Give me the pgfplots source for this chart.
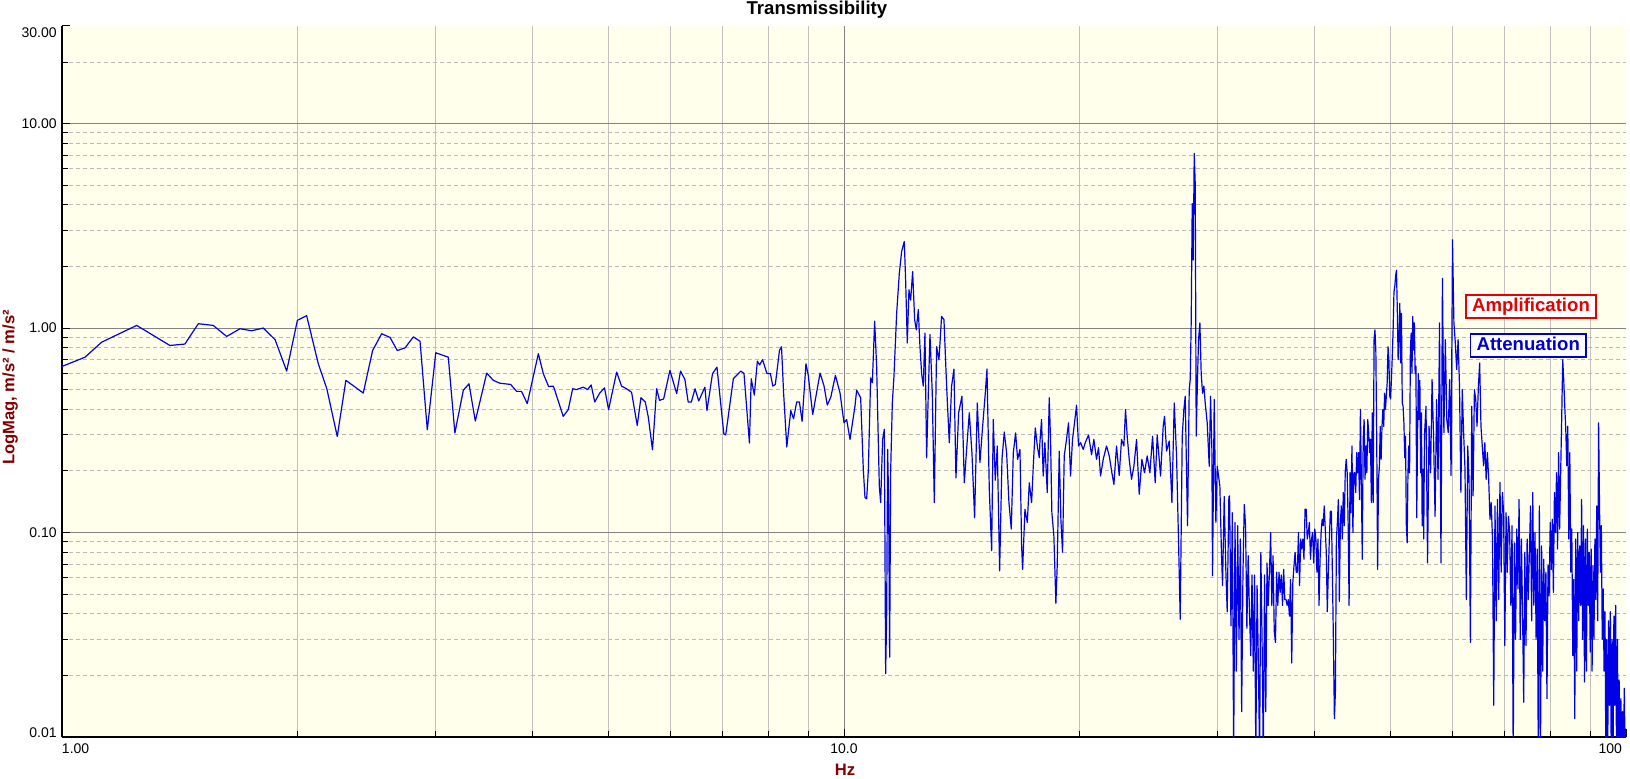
\documentclass[border=0pt]{standalone}
\usepackage{fontspec}
\setmainfont{Liberation Sans}
\usepackage{pgfplots}
\pgfplotsset{compat=1.18}

\definecolor{bgyellow}{RGB}{255,255,236}
\definecolor{gridmajor}{RGB}{130,130,130}
\definecolor{gridminor}{RGB}{192,192,192}
\definecolor{griddash}{RGB}{185,185,185}
\definecolor{labelred}{RGB}{128,0,0}
\definecolor{trace}{RGB}{0,0,230}
\definecolor{ampred}{RGB}{230,0,0}
\definecolor{attblue}{RGB}{0,0,205}

\newcommand\tickfont{\fontsize{7}{8}\selectfont}

\begin{document}
\begin{tikzpicture}
\begin{loglogaxis}[
  at={(0,0)}, anchor=south west,
  scale only axis, width=782pt, height=355.5pt,
  xmin=1, xmax=100, ymin=0.01, ymax=30,
  axis lines*=left,
  axis line style={-, line width=1.2pt, black},
  every inner x axis line/.append style={-},
  every inner y axis line/.append style={-},
  axis background/.style={fill=bgyellow},
  xtick={10}, xticklabels={10.0},
  extra x ticks={1,100},
  extra x tick labels={{\makebox[0pt][l]{1.00}},{\makebox[0pt][r]{100\hspace{2pt}}}},
  extra x tick style={grid=none},
  minor xtick={2,3,4,5,6,7,8,9,20,30,40,50,60,70,80,90},
  ytick={0.01,0.1,1,10},
  yticklabels={{\raisebox{2.25pt}[\height][0pt]{0.01}},0.10,1.00,10.00},
  extra y ticks={30},
  extra y tick labels={{\raisebox{-3.25pt}[\height][0pt]{30.00}}},
  extra y tick style={grid=none},
  minor ytick={0.02,0.03,0.04,0.05,0.06,0.07,0.08,0.09,0.2,0.3,0.4,0.5,0.6,0.7,0.8,0.9,2,3,4,5,6,7,8,9,20},
  grid=both,
  major x grid style={gridmajor, line width=0.5pt},
  minor x grid style={gridminor, line width=0.5pt},
  major y grid style={gridmajor, line width=0.5pt},
  minor y grid style={griddash, line width=0.5pt, dash pattern=on 2pt off 1.5pt},
  tick align=inside,
  major tick length=4pt, minor tick length=3pt,
  every tick/.style={black, line width=0.5pt},
  xticklabel style={font=\tickfont, anchor=north, inner sep=0pt, yshift=-3pt},
  yticklabel style={font=\tickfont, anchor=east, inner sep=0pt, xshift=-2.5pt},
  title={Transmissibility},
  every axis title/.style={at={(axis description cs:0.4827,1)}, anchor=base,
    yshift=5.5pt, inner sep=0pt, font=\bfseries\fontsize{9.3}{11}\selectfont},
  xlabel={Hz},
  every axis x label/.style={at={(axis description cs:0.5006,0)}, anchor=center,
    yshift=-16.3pt, inner sep=0pt, text=labelred, font=\bfseries\fontsize{8.3}{10}\selectfont},
  ylabel={LogMag, m/s² / m/s²},
  every axis y label/.style={at={(axis description cs:0,0.4916)}, xshift=-26pt, rotate=90,
    anchor=center, inner sep=0pt, text=labelred, font=\bfseries\fontsize{8.3}{10}\selectfont},
]
\addplot[trace, line width=0.6pt, line join=round, no marks] coordinates {
(1.0,0.649) (1.070,0.72) (1.124,0.853) (1.246,1.03) (1.374,0.822) (1.436,0.835) (1.494,1.05) (1.561,1.03)
(1.624,0.91) (1.689,0.992) (1.748,0.97) (1.809,1.0) (1.873,0.877) (1.938,0.616) (2.0,1.09) (2.055,1.15)
(2.127,0.669) (2.181,0.505) (2.249,0.295) (2.307,0.555) (2.428,0.481) (2.496,0.777) (2.563,0.938) (2.627,0.9)
(2.684,0.777) (2.746,0.80) (2.814,0.905) (2.870,0.862) (2.932,0.318) (3.006,0.757) (3.119,0.72) (3.18,0.307)
(3.26,0.496) (3.315,0.534) (3.377,0.351) (3.493,0.602) (3.561,0.555) (3.632,0.537) (3.748,0.53) (3.815,0.49)
(3.87,0.49) (3.936,0.427) (4.066,0.749) (4.126,0.598) (4.19,0.518) (4.25,0.52) (4.375,0.37) (4.44,0.399)
(4.498,0.505) (4.55,0.50) (4.64,0.514) (4.70,0.50) (4.75,0.527) (4.80,0.435) (4.87,0.48) (4.94,0.51)
(5.0,0.399) (5.12,0.609) (5.195,0.52) (5.27,0.505) (5.35,0.485) (5.44,0.334) (5.50,0.457) (5.57,0.435)
(5.62,0.367) (5.69,0.254) (5.76,0.505) (5.81,0.443) (5.88,0.45) (5.99,0.621) (6.11,0.478) (6.18,0.616)
(6.26,0.56) (6.32,0.435) (6.38,0.435) (6.45,0.505) (6.52,0.44) (6.64,0.514) (6.68,0.395) (6.79,0.598)
(6.88,0.644) (7.02,0.304) (7.06,0.30) (7.22,0.565) (7.38,0.616) (7.45,0.60) (7.57,0.274) (7.61,0.565)
(7.68,0.47) (7.75,0.689) (7.8,0.66) (7.87,0.70) (7.97,0.60) (8.05,0.60) (8.11,0.52) (8.17,0.53)
(8.27,0.777) (8.32,0.81) (8.37,0.485) (8.45,0.262) (8.55,0.395) (8.62,0.36) (8.70,0.435) (8.77,0.435)
(8.84,0.35) (8.94,0.669) (9.0,0.59) (9.12,0.378) (9.32,0.602) (9.43,0.52) (9.52,0.42) (9.62,0.46)
(9.75,0.587)
(9.883,0.482) (10.00,0.344) (10.079,0.357) (10.178,0.285) (10.329,0.415) (10.380,0.497) (10.503,0.456) (10.585,0.204)
(10.638,0.148) (10.690,0.146) (10.742,0.20) (10.816,0.57) (10.870,0.54) (10.945,1.08) (11.009,0.65) (11.096,0.169)
(11.140,0.14) (11.205,0.285) (11.261,0.32) (11.305,0.0204) (11.338,0.039) (11.372,0.255) (11.405,0.14) (11.439,0.0246)
(11.472,0.196) (11.529,0.43) (11.585,0.58) (11.677,1.18) (11.769,1.85) (11.850,2.37) (11.943,2.65) (11.990,1.72)
(12.049,0.845) (12.108,1.54) (12.168,1.37) (12.240,1.89) (12.312,1.1) (12.372,0.98) (12.445,1.23) (12.507,0.81)
(12.568,0.6) (12.630,0.52) (12.692,0.945) (12.754,0.232) (12.805,0.415) (12.880,0.93) (12.969,0.48) (13.046,0.14)
(13.135,0.81) (13.226,0.70) (13.330,1.14) (13.422,1.1) (13.528,0.52) (13.635,0.275) (13.729,0.52) (13.823,0.63)
(13.905,0.185) (14.015,0.385) (14.153,0.464) (14.251,0.175) (14.349,0.255) (14.462,0.385) (14.576,0.245) (14.691,0.118)
(14.807,0.43) (14.924,0.22) (15.041,0.33) (15.160,0.48) (15.235,0.63) (15.340,0.163) (15.446,0.0815) (15.521,0.357)
(15.613,0.18) (15.705,0.265) (15.814,0.065) (15.923,0.228) (16.032,0.31) (16.143,0.245) (16.254,0.14) (16.366,0.104)
(16.463,0.245) (16.576,0.307) (16.674,0.228) (16.789,0.255) (16.872,0.086) (16.922,0.066) (17.038,0.13) (17.156,0.112)
(17.257,0.175) (17.376,0.14) (17.462,0.212) (17.565,0.325) (17.669,0.265) (17.773,0.232)
(17.805,0.275) (17.892,0.357) (17.980,0.189) (18.069,0.275) (18.194,0.157) (18.301,0.456) (18.373,0.285) (18.445,0.125)
(18.554,0.096) (18.663,0.045) (18.737,0.069) (18.847,0.25) (18.940,0.116) (19.033,0.08) (19.127,0.237) (19.258,0.285)
(19.372,0.344) (19.487,0.189) (19.602,0.285) (19.717,0.344) (19.834,0.42) (19.951,0.265) (20.068,0.275) (20.227,0.255)
(20.346,0.275) (20.547,0.30) (20.728,0.24) (20.871,0.285) (21.036,0.228) (21.160,0.26) (21.285,0.189) (21.453,0.228)
(21.665,0.265) (21.836,0.237) (22.008,0.196) (22.138,0.172) (22.311,0.265) (22.487,0.19) (22.642,0.285) (22.798,0.265)
(22.910,0.40) (23.023,0.296) (23.159,0.228) (23.319,0.182) (23.480,0.211) (23.665,0.285) (23.852,0.154) (24.040,0.228)
(24.229,0.196) (24.420,0.237) (24.613,0.196) (24.807,0.296) (25.002,0.175) (25.150,0.30) (25.398,0.189) (25.599,0.332)
(25.700,0.37) (25.851,0.25) (26.055,0.28) (26.261,0.14) (26.442,0.43) (26.624,0.237) (26.781,0.09) (26.913,0.0377)
(27.072,0.296) (27.205,0.40) (27.312,0.464) (27.420,0.196) (27.500,0.108) (27.636,0.50) (27.717,0.56) (27.799,1.08)
(27.881,4.07) (27.963,2.15) (28.046,7.14) (28.128,5.1) (28.211,0.296) (28.322,0.58) (28.406,0.877) (28.517,1.06)
(28.629,0.6) (28.742,0.48) (28.855,0.52) (28.969,0.43) (29.140,0.344) (29.312,0.211) (29.428,0.464) (29.543,0.255)
(29.601,0.0614) (29.747,0.447) (29.893,0.112) (30.011,0.211) (30.129,0.189) (30.247,0.169) (30.396,0.077) (30.486,0.055)
(30.636,0.15) (30.787,0.064) (30.908,0.041) (31.060,0.15)
(31.125,0.151) (31.25,0.035) (31.375,0.125) (31.5,0.008) (31.625,0.112) (31.75,0.021) (31.875,0.108)
(32.0,0.030) (32.125,0.093) (32.25,0.0133) (32.375,0.064) (32.5,0.137) (32.625,0.108) (32.75,0.034) (32.875,0.077)
(33.0,0.041) (33.125,0.025) (33.25,0.062) (33.375,0.021) (33.5,0.062) (33.625,0.008) (33.75,0.055) (33.875,0.024)
(34.0,0.008) (34.125,0.08) (34.25,0.030) (34.375,0.008) (34.5,0.062) (34.625,0.0133) (34.75,0.071) (34.875,0.044)
(35.0,0.064) (35.125,0.10) (35.25,0.044) (35.375,0.077) (35.5,0.033) (35.625,0.029) (35.75,0.064) (35.875,0.044)
(36.0,0.064) (36.125,0.051) (36.25,0.062) (36.375,0.044) (36.5,0.066) (36.625,0.047) (36.75,0.047) (36.875,0.044)
(37.0,0.047) (37.125,0.039) (37.25,0.059) (37.375,0.023) (37.5,0.057) (37.625,0.069) (37.75,0.08) (37.875,0.064)
(38.0,0.064) (38.125,0.10) (38.25,0.055) (38.375,0.093) (38.5,0.083) (38.625,0.093) (38.75,0.074) (38.875,0.13)
(39.0,0.13) (39.125,0.093) (39.25,0.10) (39.375,0.112) (39.5,0.074) (39.625,0.093) (39.75,0.10) (39.875,0.071)
(40.0,0.104) (40.125,0.093) (40.25,0.064) (40.375,0.093) (40.5,0.044) (40.625,0.074) (40.75,0.10) (40.875,0.116)
(41.0,0.108) (41.125,0.135) (41.25,0.104) (41.375,0.08) (41.5,0.041) (41.625,0.064) (41.75,0.093) (41.875,0.127)
(42.0,0.127) (42.125,0.064) (42.25,0.030) (42.375,0.0123) (42.5,0.0165) (42.625,0.093) (42.75,0.112) (42.875,0.145)
(43.0,0.046) (43.125,0.112) (43.25,0.135) (43.375,0.093) (43.5,0.157) (43.625,0.108) (43.75,0.196) (43.875,0.228)
(44.0,0.196) (44.125,0.112) (44.25,0.044) (44.375,0.196) (44.5,0.125) (44.625,0.265) (44.75,0.10) (44.875,0.196)
(45.0,0.196) (45.125,0.157) (45.25,0.246) (45.375,0.196) (45.5,0.246) (45.625,0.145) (45.75,0.40) (45.875,0.182)
(46.0,0.074) (46.125,0.286) (46.25,0.357) (46.375,0.182) (46.5,0.265) (46.625,0.196) (46.75,0.357) (46.875,0.31)
(47.0,0.246) (47.125,0.286) (47.25,0.14) (47.375,0.385) (47.5,0.14) (47.625,0.877) (47.75,0.98) (47.875,0.78)
(48.0,0.286) (48.125,0.066) (48.25,0.182) (48.375,0.21) (48.5,0.33) (48.625,0.228) (48.75,0.33) (48.875,0.40)
(49.0,0.33) (49.125,0.48) (49.25,0.40) (49.375,0.465) (49.5,0.54) (49.625,0.81) (49.75,0.70) (49.875,0.465)
(50.0,0.45) (50.125,0.56) (50.25,0.73) (50.375,0.98) (50.5,1.5) (50.625,1.6) (50.75,1.8) (50.875,1.92)
(51.0,1.22) (51.125,0.70) (51.25,0.88) (51.375,1.32) (51.5,0.675) (51.625,1.18) (51.75,0.43) (51.875,0.415)
(52.0,0.344) (52.125,0.232) (52.25,0.296) (52.375,0.108) (52.5,0.089) (52.625,0.196) (52.75,0.265) (52.875,0.196)
(53.0,0.78) (53.125,0.945) (53.25,0.60) (53.375,1.14) (53.5,0.78) (53.625,1.06) (53.75,0.60) (53.875,0.65)
(54.0,0.118) (54.125,0.286) (54.25,0.60) (54.375,0.357) (54.5,0.555) (54.625,0.196) (54.75,0.385) (54.875,0.108)
(55.0,0.204) (55.125,0.093) (55.25,0.30)
(55.5,0.415) (55.75,0.071) (56.0,0.331) (56.25,0.196) (56.5,0.56) (56.75,0.286) (57.0,0.12) (57.25,0.447)
(57.5,0.182) (57.75,1.06) (58.0,0.071) (58.25,1.75) (58.5,0.308) (58.75,0.877) (59.0,0.357) (59.25,0.308)
(59.5,0.56) (59.75,0.19) (60.0,2.7) (60.25,1.06) (60.5,0.845) (60.75,0.627) (61.0,0.877) (61.25,0.52)
(61.5,0.157) (61.75,0.50) (62.0,0.308) (62.25,0.204) (62.5,0.047) (62.75,0.265) (63.0,0.182) (63.25,0.029)
(63.5,0.415) (63.75,0.151) (64.0,0.50) (64.25,0.447) (64.5,0.331) (64.75,0.52) (65.0,0.675) (65.25,0.331)
(65.5,0.265) (65.75,0.212) (66.0,0.275) (66.25,0.182) (66.5,0.246) (66.75,0.182) (67.0,0.116) (67.25,0.14)
(67.5,0.093) (67.75,0.0143) (68.0,0.135) (68.25,0.037) (68.5,0.145) (68.75,0.047) (69.0,0.176) (69.25,0.064)
(69.5,0.157) (69.75,0.125) (70.0,0.028) (70.25,0.125) (70.5,0.064) (70.75,0.12) (71.0,0.10) (71.25,0.044)
(71.5,0.108) (71.75,0.008) (72.0,0.089) (72.25,0.030) (72.5,0.104) (72.75,0.053) (73.0,0.145) (73.25,0.030)
(73.5,0.093) (73.75,0.041) (74.0,0.0148) (74.25,0.08) (74.5,0.028) (74.75,0.093) (75.0,0.047) (75.25,0.08)
(75.5,0.135) (75.75,0.037) (76.0,0.157) (76.25,0.044) (76.5,0.10) (76.75,0.030) (77.0,0.083) (77.25,0.008)
(77.5,0.135) (77.75,0.008) (78.0,0.086) (78.25,0.021) (78.5,0.074) (78.75,0.037) (79.0,0.064) (79.25,0.0154)
(79.5,0.069) (79.75,0.049) (80.0,0.112) (80.25,0.066) (80.5,0.116) (80.75,0.051) (81.0,0.157) (81.25,0.10)
(81.5,0.196) (81.75,0.083) (82.0,0.246) (82.25,0.104) (82.5,0.196) (82.75,0.357) (83.0,0.70) (83.25,0.56)
(83.5,0.415) (83.75,0.32) (84.0,0.212) (84.25,0.331) (84.5,0.093) (84.75,0.246) (85.0,0.064) (85.25,0.104)
(85.5,0.025) (85.75,0.059) (86.0,0.0123) (86.25,0.093) (86.5,0.021) (86.75,0.10) (87.0,0.037) (87.25,0.086)
(87.5,0.044) (87.75,0.145) (88.0,0.030) (88.25,0.108) (88.5,0.0186) (88.75,0.093) (89.0,0.021) (89.25,0.104)
(89.5,0.044) (89.75,0.08) (90.0,0.026) (90.25,0.083) (90.5,0.021) (90.75,0.069) (91.0,0.030) (91.25,0.093)
(91.5,0.047) (91.75,0.135) (92.0,0.037) (92.25,0.344) (92.5,0.135) (92.75,0.064) (93.0,0.108) (93.25,0.030)
(93.5,0.053) (93.75,0.021) (94.0,0.041) (94.25,0.008) (94.5,0.030) (94.75,0.008) (95.0,0.037) (95.25,0.0143)
(95.5,0.041) (95.75,0.008) (96.0,0.030) (96.25,0.008) (96.5,0.039) (96.75,0.0143) (97.0,0.044) (97.25,0.008)
(97.5,0.030) (97.75,0.008) (98.0,0.019) (98.25,0.008) (98.5,0.0154) (98.75,0.008) (99.0,0.0133) (99.25,0.008)
(99.5,0.0173) (99.75,0.008) (100.0,0.011)
};
\node[draw=ampred, line width=0.8pt, fill=white, text=ampred, font=\bfseries\fontsize{9.3}{11}\selectfont,
  inner xsep=3pt, inner ysep=0.8pt, text height=0.75em, text depth=0.25em]
  at (axis cs:75.6,1.275) {Amplification};
\node[draw=attblue, line width=0.8pt, fill=white, text=attblue, font=\bfseries\fontsize{9.3}{11}\selectfont,
  inner xsep=3pt, inner ysep=0.8pt, text height=0.75em, text depth=0.25em]
  at (axis cs:74.99,0.820) {Attenuation};
\end{loglogaxis}
\pgfresetboundingbox
\path[use as bounding box] (-31pt,-20.5pt) rectangle (784pt,368.5pt);
\end{tikzpicture}
\end{document}
